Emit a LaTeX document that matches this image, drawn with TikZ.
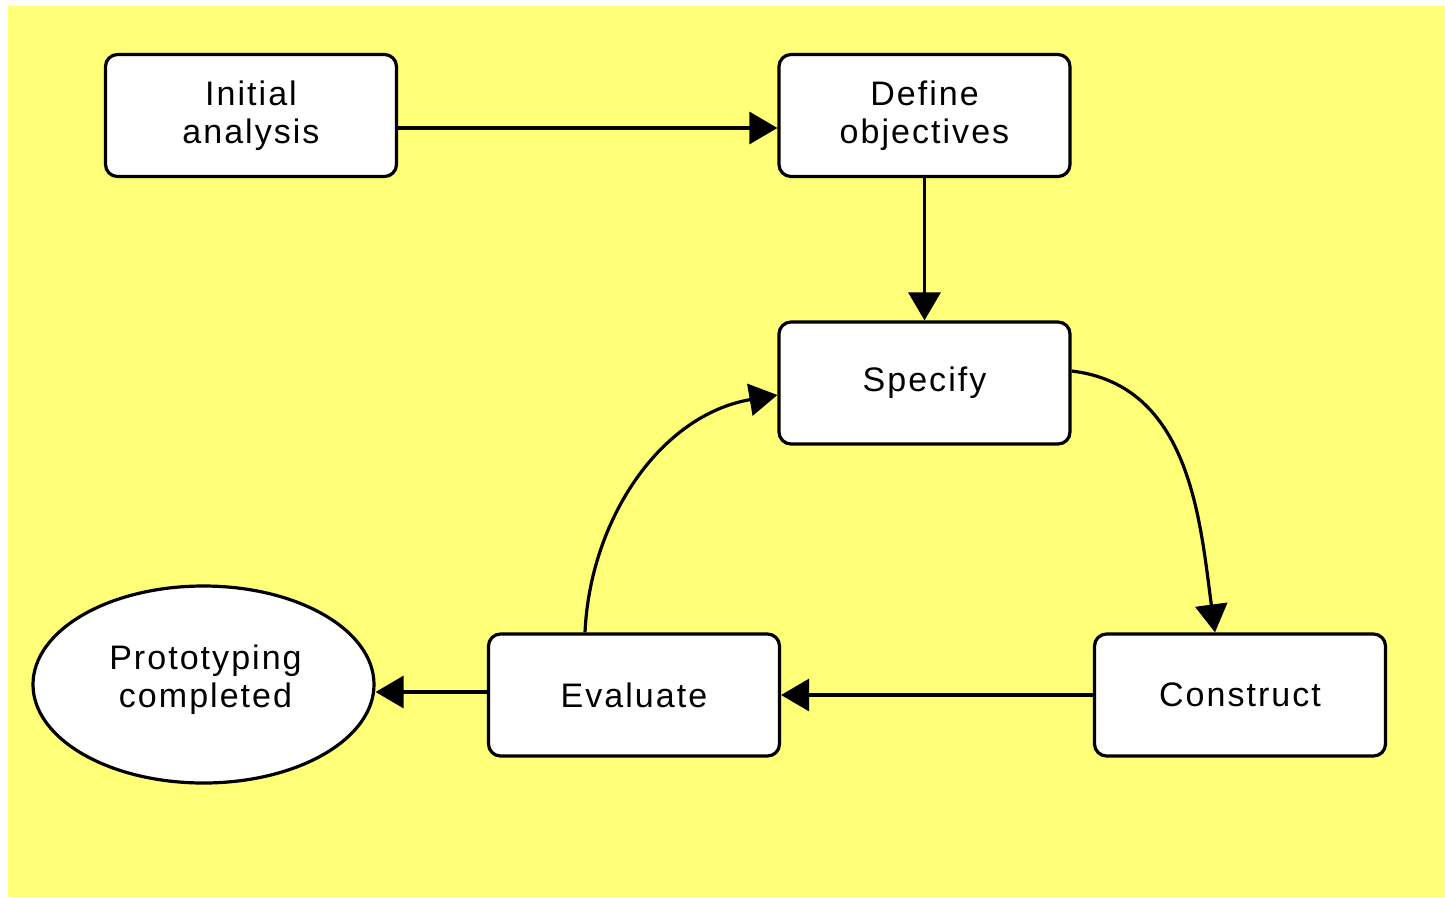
\documentclass[tikz,border=0pt]{standalone}
\usepackage{fontspec}
\setmainfont{Liberation Sans}[LetterSpace=6]
\usetikzlibrary{arrows.meta,calc,shapes.geometric}
\definecolor{bgyellow}{RGB}{255,255,120}
\tikzset{
  procbox/.style={draw=black, line width=3.2pt, fill=white, rounded corners=12pt,
    minimum width=291pt, minimum height=122pt, align=center, inner sep=0pt,
    font=\fontsize{34}{38}\selectfont},
  endnode/.style={draw=black, line width=3.2pt, fill=white, ellipse,
    minimum width=341pt, minimum height=197pt, inner sep=0pt},
  endtext/.style={align=center, inner sep=0pt, font=\fontsize{34}{38}\selectfont},
  conn/.style={draw=black, line width=3.2pt, -{Triangle[length=28pt,width=32pt]}}
}
\begin{document}
\begin{tikzpicture}[x=1pt,y=-1pt]
\useasboundingbox (0,0) rectangle (1445,897);
\fill[bgyellow] (8,6) rectangle (1445,897);
\node[procbox] (init) at (251,115.5) {Initial\\analysis};
\node[procbox] (def) at (924.5,115.5) {Define\\objectives};
\node[procbox] (spec) at (924.5,383) {Specify};
\node[procbox] (cons) at (1240,695) {Construct};
\node[procbox] (eval) at (634,695) {Evaluate};
\node[endnode] (done) at (203.5,684.5) {};
\node[endtext] (donetxt) at ($(done.center)+(2,-5)$) {Prototyping\\completed};
\draw[conn] ($(init.east)+(0,12.5)$) -- ($(def.west)+(0,12.5)$);
\draw[conn] (def.south) -- (spec.north);
\draw[conn] ($(spec.east)+(0,-12)$) .. controls (1190,385) and (1200,520) .. ($(cons.north)+(-25,0)$);
\draw[conn] (cons.west) -- (eval.east);
\draw[conn] ($(eval.north)+(-49,0)$) .. controls (590,520) and (660,415) .. ($(spec.west)+(0,12)$);
\draw[conn] ($(eval.west)+(0,-3)$) -- (done.east |- {$(eval.west)+(0,-3)$});
\end{tikzpicture}
\end{document}
